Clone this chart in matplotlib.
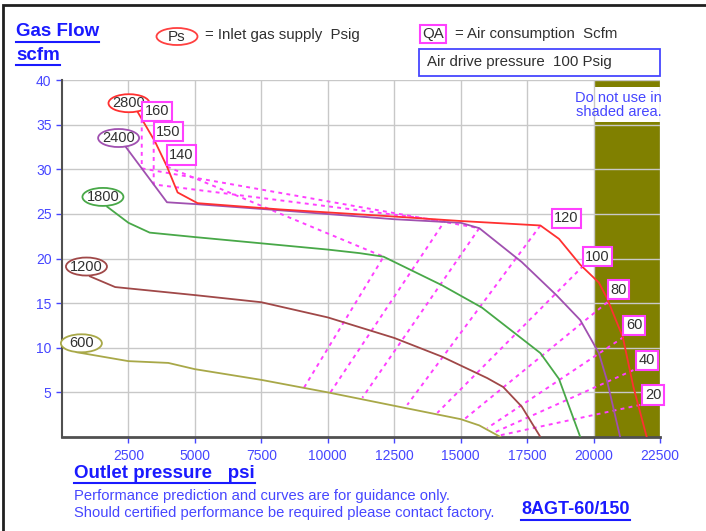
import matplotlib

matplotlib.use("Agg")
import matplotlib.pyplot as plt
from matplotlib.lines import Line2D
from matplotlib.patches import Ellipse, Rectangle

plt.rcParams["font.family"] = ["Liberation Sans", "DejaVu Sans"]

# gas flow curves, one per inlet supply pressure (Ps, psig)
ps_600_x = [550, 2500, 4000, 5000, 7500, 10000, 12500, 15000, 15700, 16500]
ps_600_y = [9.5, 8.5, 8.3, 7.6, 6.4, 5.0, 3.5, 2.0, 1.3, 0.0]
ps_1200_x = [1050, 2000, 5000, 7500, 10000, 12500, 14300, 16000, 16600, 17300, 18000]
ps_1200_y = [18.0, 16.8, 15.9, 15.1, 13.4, 11.1, 9.0, 6.6, 5.6, 3.4, 0.0]
ps_1800_x = [1700, 2500, 3300, 5000, 7500, 10000, 11200, 12100, 14300, 15800, 18000, 18700, 19500]
ps_1800_y = [25.8, 24.0, 22.9, 22.4, 21.7, 21.0, 20.6, 20.2, 17.0, 14.5, 9.4, 6.5, 0.0]
ps_2400_x = [2400, 3950, 5000, 8200, 12500, 15000, 15700, 17300, 18600, 19500, 20200, 20500, 21000]
ps_2400_y = [32.5, 26.3, 26.1, 25.4, 24.4, 24.0, 23.4, 19.6, 15.9, 13.1, 9.4, 6.4, 0.0]
ps_2800_x = [2850, 3500, 3950, 4350, 5100, 8200, 12500, 15000, 18000, 18700, 19500, 20200, 20500, 21100, 21500, 22000]
ps_2800_y = [36.4, 33.1, 30.3, 27.4, 26.2, 25.5, 24.7, 24.2, 23.7, 22.2, 19.3, 17.3, 15.6, 11.2, 5.6, 0.0]

ps_labels = ["600", "1200", "1800", "2400", "2800"]
ps_colors = ["#a8a848", "#a04848", "#48a848", "#a050b0", "#ff3030"]

# air consumption (QA, scfm) lines
qa_labels = ["160", "150", "140", "120", "100", "80", "60", "40", "20"]
qa_x = [
    [3000, 3000, 15700, 11300],
    [3450, 3450, 14400, 10100],
    [3950, 12100, 9100],
    [18000, 12990],
    [19620, 14120],
    [20520, 15100],
    [21130, 16000],
    [21500, 16300],
    [21760, 16500],
]
qa_y = [
    [35.6, 30.1, 23.4, 4.4],
    [33.2, 28.3, 24.2, 5.0],
    [30.3, 20.2, 5.5],
    [23.7, 3.6],
    [19.2, 2.7],
    [15.1, 1.9],
    [11.2, 1.0],
    [7.5, 0.55],
    [3.6, 0.2],
]

x_ticks = [2500, 5000, 7500, 10000, 12500, 15000, 17500, 20000, 22500]
y_ticks = [5, 10, 15, 20, 25, 30, 35, 40]
no_use_x = (20000, 22500)

# label placement (data coords)
ps_label_pos = [(730, 10.5), (920, 19.1), (1540, 26.9), (2130, 33.5), (2520, 37.4)]
qa_label_pos = [(3580, 36.5), (4010, 34.2), (4500, 31.6), (18980, 24.5), (20150, 20.2),
                (20940, 16.5), (21520, 12.5), (22010, 8.6), (22240, 4.7)]

BLUE = "#4646ff"
MAGENTA = "#ff40ff"
DARK = "#303030"
W, H = 706, 531


def fx(px):
    return px / W


def fy(py):
    return 1 - py / H


fig = plt.figure(figsize=(W / 100, H / 100), dpi=100)
ax = fig.add_axes([fx(62), fy(437), fx(660) - fx(62), fy(80) - fy(437)])

# shaded "do not use" zone
ax.add_patch(Rectangle((no_use_x[0], 0), no_use_x[1] - no_use_x[0], 40,
                       fc="#808000", ec="none", zorder=0.1))
ax.add_patch(Rectangle((no_use_x[0], 35.3), no_use_x[1] - no_use_x[0], 3.9,
                       fc="white", ec="none", zorder=0.2))
ax.text(20950, 37.2, "Do not use in\nshaded area.", color=BLUE, fontsize=10.5,
        ha="center", va="center", linespacing=1.0, zorder=5)

for xs, ys in zip(qa_x, qa_y):
    ax.plot(xs, ys, color=MAGENTA, lw=1.4, ls=(0, (2, 2.2)), zorder=2)

curves = [(ps_600_x, ps_600_y), (ps_1200_x, ps_1200_y), (ps_1800_x, ps_1800_y),
          (ps_2400_x, ps_2400_y), (ps_2800_x, ps_2800_y)]
for (xs, ys), c in zip(curves, ps_colors):
    ax.plot(xs, ys, color=c, lw=1.3, zorder=3)

# ellipse ~41 x 18 px in data units
ell_w = 41 * 22500 / 598
ell_h = 18 * 40 / 357
for lab, (x, y), c in zip(ps_labels, ps_label_pos, ps_colors):
    ax.add_patch(Ellipse((x, y), ell_w, ell_h, fc="white", ec=c, lw=1.3, zorder=5,
                         clip_on=False))
    ax.text(x, y, lab, fontsize=10.5, color=DARK, ha="center", va="center", zorder=6)

for lab, (x, y) in zip(qa_labels, qa_label_pos):
    ax.text(x, y, lab, fontsize=10.5, color=DARK, ha="center", va="center", zorder=6,
            bbox=dict(boxstyle="square,pad=0.18", fc="white", ec=MAGENTA, lw=1.5))

ax.set_xlim(0, 22500)
ax.set_ylim(0, 40)
ax.set_xticks(x_ticks)
ax.set_yticks(y_ticks)
ax.grid(True, color="#c8c8c8", lw=1)
ax.set_axisbelow(True)
ax.tick_params(colors=BLUE, labelsize=10, length=4, width=1)
ax.tick_params(axis="x", pad=5)
for t in ax.get_xticklabels() + ax.get_yticklabels():
    t.set_color(BLUE)
for s in ["top", "right"]:
    ax.spines[s].set_visible(False)
ax.spines["left"].set_color("#505050")
ax.spines["left"].set_linewidth(1.5)
ax.spines["bottom"].set_color("#505050")
ax.spines["bottom"].set_linewidth(2)

# header and footer texts
t_gas = fig.text(fx(16), fy(32), "Gas Flow", color="#1a1aff", fontsize=13.5,
                 fontweight="bold", va="center")
t_scfm = fig.text(fx(16), fy(55), "scfm", color="#1a1aff", fontsize=13.5,
                  fontweight="bold", va="center")
fig.add_artist(Ellipse((fx(177), fy(36.5)), fx(41), 17 / H, transform=fig.transFigure,
                       fc="white", ec="#ff4040", lw=1.3))
fig.text(fx(177), fy(37), "Ps", fontsize=11, color=DARK, ha="center", va="center")
fig.text(fx(205), fy(35), "= Inlet gas supply  Psig", fontsize=10.8, color=DARK,
         va="center")
fig.text(fx(433), fy(34), "QA", fontsize=10.8, color=DARK, ha="center", va="center",
         bbox=dict(boxstyle="square,pad=0.15", fc="white", ec=MAGENTA, lw=1.5))
fig.text(fx(455), fy(34), "= Air consumption  Scfm", fontsize=10.8, color=DARK,
         va="center")
fig.add_artist(Rectangle((fx(419), fy(76)), fx(660) - fx(419), fy(49) - fy(76),
                         transform=fig.transFigure, fc="white", ec="#4646ff", lw=1.3))
fig.text(fx(427), fy(62), "Air drive pressure  100 Psig", fontsize=10.8, color=DARK,
         va="center")

t_out = fig.text(fx(74), fy(473), "Outlet pressure   psi", color="#1a1aff",
                 fontsize=13.5, fontweight="bold", va="center")
fig.text(fx(74), fy(496), "Performance prediction and curves are for guidance only.",
         color=BLUE, fontsize=10.6, va="center")
fig.text(fx(74), fy(513), "Should certified performance be required please contact factory.",
         color=BLUE, fontsize=10.6, va="center")
t_model = fig.text(fx(521), fy(510), "8AGT-60/150", color="#1a1aff", fontsize=13,
                   fontweight="bold", va="center")

# outer frame (only top and left edges fall inside the picture)
fig.add_artist(Rectangle((fx(3), fy(545)), fx(720) - fx(3), fy(5) - fy(545),
                         transform=fig.transFigure, fc="none", ec="#202020", lw=2))

# underline the bold blue titles
renderer = fig.canvas.get_renderer()
for t in [t_gas, t_scfm, t_out, t_model]:
    bb = t.get_window_extent(renderer)
    yline = (bb.y0 - 1) / H
    fig.add_artist(Line2D([bb.x0 / W, bb.x1 / W], [yline, yline],
                          transform=fig.transFigure, color="#1a1aff", lw=1.5))

fig.savefig("out.png", dpi=100)
